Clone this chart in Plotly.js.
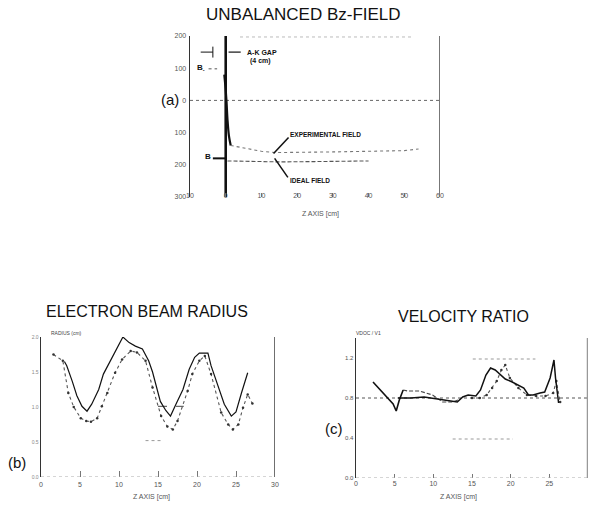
<!DOCTYPE html>
<html><head><meta charset="utf-8">
<script src="https://cdn.plot.ly/plotly-3.0.1.min.js"></script>
<style>html,body{margin:0;padding:0;background:#fff}#plot{width:591px;height:508px}</style>
</head><body><div id="plot"></div>
<script>
// ---------- Panel (a): Unbalanced Bz-field ----------
const aTickZ = [-10, 0, 10, 20, 30, 40, 50, 60];
const aTickZLabels = ['10', '0', '10', '20', '30', '40', '50', '60'];
const aTickB = [200, 100, 0, -100, -200, -300];
const aTickBLabels = ['200', '100', '0', '100', '200', '300'];
const aCathodeZ = [0, 0];
const aCathodeB = [200, -300];
const aIdealStepZ = [-3.6, 0];
const aIdealStepB = [-180, -180];
const aIdealTailZ = [0.5, 8, 15, 25, 40];
const aIdealTailB = [-188, -190, -191, -190, -188];
const aBminusZ = [-4.8, -2.4];
const aBminusB = [98, 98];
const aExpZ = [-0.4, -0.1, 0.2, 0.5, 0.9, 1.4];
const aExpB = [80, 45, 0, -60, -110, -140];
const aExpTailZ = [1.4, 4, 6, 10, 14, 20, 30, 40, 50, 54];
const aExpTailB = [-140, -146, -151, -158, -162, -162, -160, -158, -156, -151];

// ---------- Panel (b): Electron beam radius ----------
const bTickZ = [0, 5, 10, 15, 20, 25, 30];
const bTickR = [0, 0.5, 1.0, 1.5, 2.0];
const bSolidZ = [3.0, 3.3, 4.0, 4.6, 5.25, 5.9, 6.5, 7.4, 8.0, 8.9, 9.8, 10.5, 11.3, 12.1, 13.0, 13.8, 14.3, 14.8, 15.3, 16.0, 16.6, 17.3, 18.2, 19.0, 19.7, 20.3, 21.4, 21.8, 22.7, 23.5, 24.4, 25.0, 25.7, 26.5];
const bSolidR = [1.65, 1.59, 1.37, 1.16, 1.01, 0.94, 1.04, 1.25, 1.47, 1.66, 1.85, 2.0, 1.92, 1.87, 1.83, 1.66, 1.50, 1.28, 1.08, 0.95, 0.87, 1.04, 1.25, 1.54, 1.71, 1.77, 1.77, 1.59, 1.30, 1.04, 0.87, 0.93, 1.20, 1.49];
const bDotZ = [1.6, 2.8, 3.5, 4.2, 5.1, 5.8, 6.4, 7.2, 7.8, 8.5, 9.5, 10.4, 11.5, 12.3, 13.4, 14.3, 15.4, 16.2, 16.9, 17.5, 18.8, 19.4, 20.3, 21.0, 21.8, 23.1, 24.0, 24.6, 25.3, 25.9, 26.5, 27.1];
const bDotR = [1.75, 1.66, 1.20, 1.00, 0.84, 0.80, 0.79, 0.84, 1.01, 1.20, 1.49, 1.68, 1.80, 1.78, 1.66, 1.28, 0.87, 0.72, 0.68, 0.80, 1.23, 1.47, 1.66, 1.73, 1.47, 0.92, 0.75, 0.68, 0.75, 0.99, 1.18, 1.05];
const bRefZ = [15.0, 18.3];
const bRefR = [1.01, 1.01];
const bFaintZ = [13.4, 15.6];
const bFaintR = [0.52, 0.52];

// ---------- Panel (c): Velocity ratio ----------
const cTickZ = [0, 5, 10, 15, 20, 25, 30];
const cTickV = [0, 0.4, 0.8, 1.2];
const cTickVLabels = ['0.0', '0.4', '0.8', '1.2'];
const cExpZ = [2.2, 2.9, 3.5, 4.1, 4.8, 5.2, 5.6, 6.1];
const cExpV = [0.96, 0.90, 0.85, 0.79, 0.74, 0.67, 0.78, 0.88];
const cDashZ = [6.1, 6.7, 8.2, 9.9, 11.2, 12.5, 13.5];
const cDashV = [0.88, 0.87, 0.87, 0.83, 0.76, 0.76, 0.79];
const cLowZ = [5.4, 7.1, 8.8, 10.6, 11.8, 13.1, 13.8, 14.5, 15.5, 16.1, 16.8, 17.4, 18.0, 18.7, 19.3, 20.2, 21.0, 21.7, 22.3, 22.9, 23.8, 24.4, 25.1, 25.6, 25.8, 26.1, 26.2];
const cLowV = [0.80, 0.80, 0.81, 0.79, 0.77, 0.76, 0.81, 0.83, 0.82, 0.88, 1.03, 1.10, 1.08, 1.03, 0.99, 0.96, 0.93, 0.90, 0.83, 0.83, 0.85, 0.86, 1.00, 1.18, 1.00, 0.83, 0.75];
const cDotZ = [15.0, 16.0, 16.9, 17.6, 18.2, 18.8, 19.3, 19.9, 21.0, 22.1, 23.3, 24.5, 25.5, 25.9, 26.4];
const cDotV = [0.80, 0.80, 0.83, 0.90, 0.97, 1.08, 1.13, 1.00, 0.90, 0.83, 0.82, 0.82, 0.85, 0.97, 0.76];
const cRefZ = [0, 30];
const cRefV = [0.8, 0.8];
const cFaintHiZ = [15.1, 23.2];
const cFaintHiV = [1.19, 1.19];
const cFaintLoZ = [12.5, 20.3];
const cFaintLoV = [0.39, 0.39];

// ---------- helpers ----------
const W = 591, H = 508;
const px = x => x / W;
const py = y => 1 - y / H;
const FONT = 'Liberation Sans, Arial, sans-serif';
const INK = '#111';

function line(x, y, xa, ya, color, width, dash, extra) {
  return Object.assign({x: x, y: y, xaxis: xa, yaxis: ya, type: 'scatter', mode: 'lines',
    line: {color: color, width: width, dash: dash || 'solid'}, hoverinfo: 'skip'}, extra || {});
}

const traces = [
  // (a)
  line([-10, 60], [0, 0], 'x', 'y', '#666', 1, 'dot'),
  line([4, 52], [197, 197], 'x', 'y', '#bbb', 1, 'dot'),
  line(aCathodeZ, aCathodeB, 'x', 'y', INK, 2.6),
  line(aIdealStepZ, aIdealStepB, 'x', 'y', INK, 2),
  line(aIdealTailZ, aIdealTailB, 'x', 'y', '#555', 1.1, '4px,2px'),
  line(aBminusZ, aBminusB, 'x', 'y', '#555', 1, 'dot'),
  line(aExpZ, aExpB, 'x', 'y', INK, 2.2, 'solid', {line: {color: INK, width: 2.2, shape: 'spline'}}),
  line(aExpTailZ, aExpTailB, 'x', 'y', '#777', 1.1, 'dot'),
  // (b)
  line(bFaintZ, bFaintR, 'x2', 'y2', '#999', 1, 'dot'),
  line(bRefZ, bRefR, 'x2', 'y2', '#444', 1, 'dash'),
  line(bDotZ, bDotR, 'x2', 'y2', '#555', 1.1, 'dot', {mode: 'lines+markers', marker: {size: 2.5, color: '#333'}}),
  line(bSolidZ, bSolidR, 'x2', 'y2', INK, 1.2),
  // (c)
  line(cRefZ, cRefV, 'x3', 'y3', '#555', 1, 'dot'),
  line(cFaintHiZ, cFaintHiV, 'x3', 'y3', '#999', 1, 'dot'),
  line(cFaintLoZ, cFaintLoV, 'x3', 'y3', '#999', 1, 'dot'),
  line(cDotZ, cDotV, 'x3', 'y3', '#555', 1.1, 'dot', {mode: 'lines+markers', marker: {size: 2.5, color: '#333'}}),
  line(cDashZ, cDashV, 'x3', 'y3', '#444', 1.1, '4px,2px'),
  line(cExpZ, cExpV, 'x3', 'y3', INK, 1.6),
  line(cLowZ, cLowV, 'x3', 'y3', INK, 1.5)
];

const tickFont = {family: FONT, size: 7, color: '#555'};
function xax(domain, range, vals, txt, anchor, extra) {
  return Object.assign({domain: domain, range: range, anchor: anchor, tickmode: 'array', tickvals: vals,
    ticktext: txt, showgrid: false, zeroline: false, showline: false, ticks: 'inside', ticklen: 4,
    tickcolor: '#777', tickwidth: 1, tickfont: tickFont, fixedrange: true}, extra || {});
}
function yax(domain, range, vals, txt, anchor, extra) {
  return Object.assign({domain: domain, range: range, anchor: anchor, tickmode: 'array', tickvals: vals,
    ticktext: txt, showgrid: false, zeroline: false, showline: true, linecolor: '#333', linewidth: 1.4,
    ticks: '', tickfont: tickFont, fixedrange: true}, extra || {});
}

function ann(x, y, text, size, extra) {
  return Object.assign({x: px(x), y: py(y), xref: 'paper', yref: 'paper', text: text, showarrow: false,
    font: {family: FONT, size: size, color: INK}, xanchor: 'center', yanchor: 'middle'}, extra || {});
}

const layout = {
  width: W, height: H, margin: {l: 0, r: 0, t: 0, b: 0}, paper_bgcolor: '#fff', plot_bgcolor: '#fff',
  showlegend: false,
  xaxis: xax([px(190), px(440)], [-10, 60], aTickZ, aTickZLabels, 'y', {ticklabelstandoff: -7}),
  yaxis: yax([py(197), py(36)], [-300, 200], aTickB, aTickBLabels, 'x', {ticklabelstandoff: 1}),
  xaxis2: xax([px(41), px(275)], [0, 30], bTickZ, bTickZ.map(String), 'y2', {ticklen: 6, ticklabelstandoff: 2}),
  yaxis2: yax([py(477), py(337)], [0, 2], bTickR, bTickR.map(v => v.toFixed(1)), 'x2', {tickfont: {family: FONT, size: 5, color: '#888'}}),
  xaxis3: xax([px(356), px(588)], [0, 30], cTickZ, cTickZ.map(String), 'y3'),
  yaxis3: yax([py(478), py(338)], [0, 1.4], cTickV, cTickVLabels, 'x3', {tickfont: {family: FONT, size: 6, color: '#555'}}),
  shapes: [
    {type: 'line', xref: 'x', yref: 'y', x0: 60, x1: 60, y0: -300, y1: 200, line: {color: '#777', width: 2}},
    {type: 'line', xref: 'x2', yref: 'y2', x0: 30, x1: 30, y0: 0, y1: 2, line: {color: '#333', width: 1.4}},
    {type: 'line', xref: 'x3', yref: 'y3', x0: 30, x1: 30, y0: 0, y1: 1.4, line: {color: '#999', width: 2.5}},
    {type: 'line', xref: 'x2', yref: 'y2', x0: 0, x1: 30, y0: 0, y1: 0, line: {color: '#aaa', width: 1, dash: 'dot'}},
    {type: 'line', xref: 'x3', yref: 'y3', x0: 0, x1: 30, y0: 0, y1: 0, line: {color: '#aaa', width: 1, dash: 'dot'}},
    {type: 'line', xref: 'x', yref: 'y', x0: -7, x1: -3.6, y0: 150, y1: 150, line: {color: INK, width: 1}},
    {type: 'line', xref: 'x', yref: 'y', x0: -3.6, x1: -3.6, y0: 133, y1: 167, line: {color: INK, width: 1}},
    {type: 'line', xref: 'x', yref: 'y', x0: 0.8, x1: 4.2, y0: 150, y1: 150, line: {color: INK, width: 1.2}},
    {type: 'line', xref: 'x', yref: 'y', x0: 13.4, x1: 17.6, y0: -165, y1: -115, line: {color: INK, width: 1.5}},
    {type: 'line', xref: 'x', yref: 'y', x0: 13.7, x1: 17.4, y0: -180, y1: -239, line: {color: INK, width: 1.5}}
  ],
  annotations: [
    ann(303, 15, 'UNBALANCED Bz-FIELD', 17),
    ann(170, 100, '(a)', 15),
    ann(245, 52, 'A-K GAP', 7, {xanchor: 'left', font: {family: FONT, size: 7, color: INK, weight: 'bold'}}),
    ann(248, 61, '(4 cm)', 7, {xanchor: 'left', font: {family: FONT, size: 7, color: INK, weight: 'bold'}}),
    ann(201, 68, 'B<sub>-</sub>', 8, {font: {family: FONT, size: 8, color: INK, weight: 'bold'}}),
    ann(208, 156, 'B', 8, {font: {family: FONT, size: 8, color: INK, weight: 'bold'}}),
    ann(288, 134, 'EXPERIMENTAL FIELD', 6.5, {xanchor: 'left', font: {family: FONT, size: 6.5, color: INK, weight: 'bold'}}),
    ann(288, 180, 'IDEAL FIELD', 6.5, {xanchor: 'left', font: {family: FONT, size: 6.5, color: INK, weight: 'bold'}}),
    ann(320, 214, 'Z AXIS [cm]', 7, {font: {family: FONT, size: 7, color: '#555'}}),
    ann(147, 311, 'ELECTRON BEAM RADIUS', 16),
    ann(66, 333, 'RADIUS (cm)', 5, {font: {family: FONT, size: 5, color: '#444'}}),
    ann(17, 462, '(b)', 15),
    ann(151, 497, 'Z AXIS [cm]', 7, {font: {family: FONT, size: 7, color: '#555'}}),
    ann(464, 316, 'VELOCITY RATIO', 16),
    ann(368, 333, 'VDOC / V1', 5, {font: {family: FONT, size: 5, color: '#444'}}),
    ann(334, 428, '(c)', 15),
    ann(458, 497, 'Z AXIS [cm]', 7, {font: {family: FONT, size: 7, color: '#555'}})
  ]
};

Plotly.newPlot('plot', traces, layout, {staticPlot: true, displayModeBar: false});
</script>
</body></html>
